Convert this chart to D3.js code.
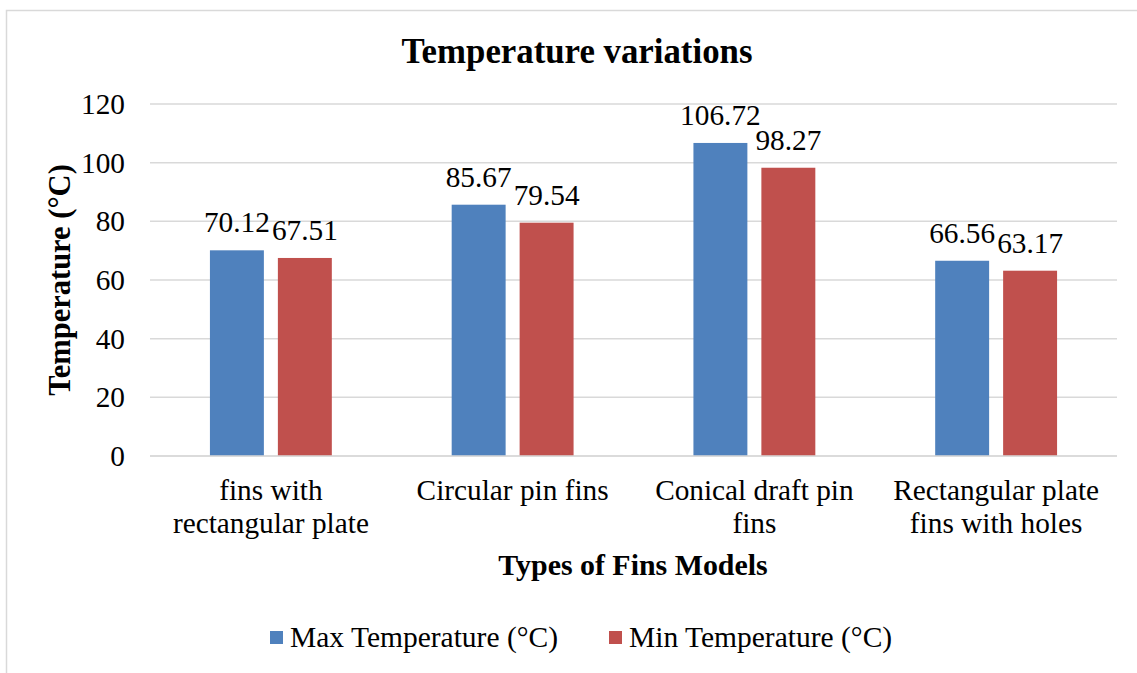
<!DOCTYPE html>
<html>
<head>
<meta charset="utf-8">
<script src="https://cdn.jsdelivr.net/npm/d3@7"></script>
<style>
  html, body { margin: 0; padding: 0; background: #fff; }
  svg { display: block; font-family: "Liberation Serif", "Times New Roman", serif; }
</style>
</head>
<body>
<svg id="chart" width="1137" height="673"></svg>
<script>
const categories = ["fins with rectangular plate", "Circular pin fins", "Conical draft pin fins", "Rectangular plate fins with holes"];
const seriesNames = ["Max Temperature (°C)", "Min Temperature (°C)"];
const maxTemp = [70.12, 85.67, 106.72, 66.56];
const minTemp = [67.51, 79.54, 98.27, 63.17];
const yTicks = [0, 20, 40, 60, 80, 100, 120];
const colors = ["#4F81BD", "#C0504D"];
const titleText = "Temperature variations";
const xTitle = "Types of Fins Models";
const yTitle = "Temperature (°C)";

(function () {
const FS = 29.3;
const FF = "'Liberation Serif', 'Times New Roman', serif";
const seriesValues = [maxTemp, minTemp];
const data = categories.map((c, i) => ({
  cat: c,
  vals: seriesNames.map((s, j) => ({ s, v: seriesValues[j][i] }))
}));

const svg = d3.select("#chart");

// outer chart border
svg.append("rect").attr("x", 6.5).attr("y", 10.5).attr("width", 1140).attr("height", 680)
  .attr("fill", "#fff").attr("stroke", "#D9D9D9").attr("stroke-width", 1.5);

const pLeft = 150, pRight = 1117, pTop = 104, pBottom = 456;

const x0 = d3.scaleBand().domain(categories).range([pLeft, pRight]).padding(0);
const x1 = d3.scaleBand().domain(seriesNames).range([0, x0.bandwidth()])
  .paddingInner(0.206).paddingOuter(0.882);
const y = d3.scaleLinear().domain([0, 120]).range([pBottom, pTop]);

// gridlines
svg.append("g").selectAll("line").data(yTicks).join("line")
  .attr("x1", pLeft).attr("x2", pRight)
  .attr("y1", d => y(d)).attr("y2", d => y(d))
  .attr("stroke", "#D9D9D9").attr("stroke-width", 1.5);

// y tick labels via axis
const yAxis = svg.append("g").attr("transform", `translate(${pLeft},0)`)
  .call(d3.axisLeft(y).tickValues(yTicks).tickSize(0).tickPadding(25));
yAxis.attr("font-family", null).attr("font-size", null);
yAxis.select(".domain").remove();
yAxis.selectAll("text").style("font-size", FS + "px").attr("fill", "#000").style("font-family", FF);

// bars
const groups = svg.append("g").selectAll("g").data(data).join("g")
  .attr("transform", d => `translate(${x0(d.cat)},0)`);
groups.selectAll("rect").data(d => d.vals).join("rect")
  .attr("x", d => x1(d.s)).attr("width", x1.bandwidth())
  .attr("y", d => y(d.v)).attr("height", d => y(0) - y(d.v))
  .attr("fill", (d, i) => colors[i]);
groups.selectAll("text").data(d => d.vals).join("text")
  .attr("x", d => x1(d.s) + x1.bandwidth() / 2)
  .attr("y", d => y(d.v) - 18)
  .attr("text-anchor", "middle").style("font-size", FS + "px").style("font-family", FF).attr("fill", "#000")
  .text(d => d.v.toFixed(2));

// baseline (x axis line)
svg.append("line").attr("x1", pLeft).attr("x2", pRight).attr("y1", pBottom).attr("y2", pBottom)
  .attr("stroke", "#D9D9D9").attr("stroke-width", 1.5);

// category labels, wrapped
const xAxis = svg.append("g").attr("transform", `translate(0,${pBottom})`)
  .call(d3.axisBottom(x0).tickSize(0).tickPadding(0));
xAxis.attr("font-family", null).attr("font-size", null);
xAxis.select(".domain").remove();
xAxis.selectAll("text").each(function(d) {
  const t = d3.select(this);
  t.text(null).style("font-size", FS + "px").attr("fill", "#000").style("font-family", FF)
    .attr("y", 0).attr("dy", null);
  const words = d.split(" ");
  let lines = [], line = [];
  const tmp = t.append("tspan");
  words.forEach(w => {
    line.push(w);
    tmp.text(line.join(" "));
    if (tmp.node().getComputedTextLength() > 222 && line.length > 1) {
      line.pop(); lines.push(line.join(" ")); line = [w];
    }
  });
  lines.push(line.join(" "));
  tmp.remove();
  lines.forEach((l, i) => {
    t.append("tspan").attr("x", 0).attr("y", 44 + i * 33).text(l);
  });
});

// title
svg.append("text").attr("x", 577).attr("y", 63).attr("text-anchor", "middle")
  .style("font-size", "34.8px").style("font-family", FF).attr("font-weight", "bold").text(titleText);

// x axis title
svg.append("text").attr("x", 633).attr("y", 575).attr("text-anchor", "middle")
  .style("font-size", "29.9px").style("font-family", FF).attr("font-weight", "bold").text(xTitle);

// y axis title
svg.append("text").attr("transform", "translate(70,280) rotate(-90)")
  .attr("text-anchor", "middle").style("font-size", "30.5px").style("font-family", FF)
  .attr("font-weight", "bold").text(yTitle);

// legend
const legendX = [270, 609];
const leg = svg.append("g").selectAll("g").data(seriesNames).join("g")
  .attr("transform", (d, i) => `translate(${legendX[i]},631)`);
leg.append("rect").attr("width", 13).attr("height", 13).attr("fill", (d, i) => colors[i]);
leg.append("text").attr("x", 20).attr("y", 16).style("font-size", "29.5px").style("font-family", FF)
  .attr("fill", "#000").text(d => d);
})();
</script>
</body>
</html>
